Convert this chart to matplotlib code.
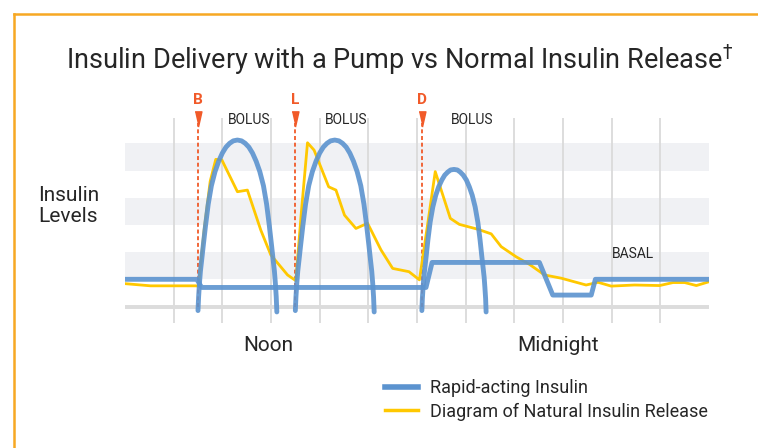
import matplotlib
matplotlib.use("Agg")
import matplotlib.pyplot as plt
from matplotlib.lines import Line2D

plt.rcParams["font.family"] = ["Roboto", "DejaVu Sans"]

# data (x in hours of the day, y in insulin level rows)
grid_hours = [8, 10, 12, 14, 16, 18, 20, 22, 24, 26, 28]
meal_hours = [9.0, 13.0, 18.2]
meal_labels = ["B", "L", "D"]

basal_x = [6.0, 8.95, 9.15, 18.37, 18.62, 23.03, 23.58, 25.16, 25.33, 30.0]
basal_y = [1.0, 1.0, 0.7, 0.7, 1.62, 1.62, 0.42, 0.42, 1.0, 1.0]

bolus1_x = [9.0, 9.025, 9.06, 9.1, 9.15, 9.22, 9.31, 9.42, 9.55, 9.7, 9.85, 10.0,
            10.15, 10.3, 10.45, 10.62, 10.79, 10.94, 11.09, 11.24, 11.39, 11.54, 11.69,
            11.82, 11.93, 12.02, 12.09, 12.14, 12.18, 12.215, 12.24]
bolus2_x = [13.0, 13.025, 13.06, 13.1, 13.15, 13.22, 13.31, 13.42, 13.55, 13.7, 13.85, 14.0,
            14.15, 14.3, 14.45, 14.62, 14.79, 14.94, 15.09, 15.24, 15.39, 15.54, 15.69,
            15.82, 15.93, 16.02, 16.09, 16.14, 16.18, 16.215, 16.24]
bolus12_y = [-0.15, 0.35, 0.85, 1.3, 1.7, 2.27, 2.98, 3.76, 4.44, 4.96, 5.34, 5.64,
             5.86, 6.0, 6.09, 6.12, 6.09, 6.0, 5.86, 5.64, 5.34, 4.96, 4.44,
             3.76, 2.98, 2.27, 1.7, 1.3, 0.85, 0.35, -0.2]
bolus3_x = [18.2, 18.22, 18.25, 18.28, 18.32, 18.38, 18.45, 18.54, 18.65, 18.77, 18.89, 19.02,
            19.14, 19.26, 19.38, 19.52, 19.66, 19.78, 19.9, 20.03, 20.15, 20.27, 20.39,
            20.5, 20.59, 20.66, 20.72, 20.76, 20.79, 20.82, 20.84]
bolus3_y = [-0.15, 0.29, 0.7, 1.07, 1.4, 1.87, 2.46, 3.1, 3.66, 4.09, 4.4, 4.65,
            4.83, 4.94, 5.02, 5.04, 5.02, 4.94, 4.83, 4.65, 4.4, 4.09, 3.66,
            3.1, 2.46, 1.87, 1.4, 1.07, 0.7, 0.29, -0.2]

natural_x = [6.0, 7.05, 8.9, 9.02, 9.25, 9.5, 9.73, 9.98, 10.62, 11.03, 11.58, 11.99,
             12.68, 13.02, 13.25, 13.5, 13.77, 14.37, 14.67, 15.02, 15.49, 15.97, 16.52,
             17.0, 17.67, 18.1, 18.45, 18.75, 19.37, 19.74, 20.5, 21.05, 21.46, 22.07,
             22.62, 23.24, 23.93, 24.95, 25.44, 25.98, 26.94, 27.97, 28.52, 29.0, 29.48, 30.0]
natural_y = [0.84, 0.76, 0.76, 0.75, 2.8, 4.6, 5.41, 5.39, 4.22, 4.28, 2.81, 1.9,
             1.16, 0.95, 3.5, 6.02, 5.75, 4.4, 4.28, 3.36, 2.87, 3.06, 2.08,
             1.4, 1.28, 0.98, 3.1, 4.96, 3.24, 3.02, 2.84, 2.67, 2.2, 1.83,
             1.55, 1.16, 1.04, 0.79, 0.89, 0.75, 0.79, 0.77, 0.88, 0.88, 0.77, 0.91]

band_rows = [1, 3, 5]

blue = "#5B93CF"
yellow = "#FFC800"
orange = "#F15A29"
text_col = "#262626"

W, H = 758, 448
fig = plt.figure(figsize=(W / 100, H / 100), dpi=100)


def fx(px):
    return px / W


def fy(py):
    return 1 - py / H


# orange frame on top and left
fig.add_artist(Line2D([fx(13.8), 1], [fy(13.8), fy(13.8)], color="#F7A823", lw=1.8))
fig.add_artist(Line2D([fx(13.8), fx(13.8)], [fy(13.8), 0], color="#F7A823", lw=1.8))

ax = fig.add_axes([fx(125), fy(330), (709 - 125) / W, (330 - 90) / H])
ax.set_xlim(6, 30)
ax.set_ylim(-0.864, 7.96)
ax.axis("off")

for r in band_rows:
    ax.axhspan(r, r + 1, color="#F0F1F4", lw=0, zorder=0)

ax.vlines(grid_hours, -0.6, 6.93, colors="#DADADA", lw=1.3, zorder=1)
ax.hlines(0, 6, 30, colors="#DCDCDC", lw=2.8, zorder=1)

# meal markers
ax.vlines(meal_hours, 0, 6.75, colors=orange, lw=1.3, linestyles=(0, (2.2, 1.5)), zorder=2)
ax.plot(meal_hours, [6.9] * 3, ls="none", marker=[(-0.45, 1), (0.45, 1), (0, -1)],
        ms=11, color=orange, zorder=3)
for h, lab in zip(meal_hours, meal_labels):
    ax.text(h, 7.6, lab, color=orange, fontsize=11, fontweight="bold",
            ha="center", va="center")

ax.plot(natural_x, natural_y, color=yellow, lw=2.0, zorder=3, solid_joinstyle="round")
for bx, by in [(bolus1_x, bolus12_y), (bolus2_x, bolus12_y), (bolus3_x, bolus3_y)]:
    ax.plot(bx, by, color=blue, lw=3.5, alpha=0.9, zorder=4,
            solid_capstyle="round", solid_joinstyle="round")
ax.plot(basal_x, basal_y, color=blue, lw=3.5, alpha=0.9, zorder=4, solid_capstyle="round")

for h in [11.09, 15.08, 20.25]:
    ax.text(h, 6.86, "BOLUS", fontsize=10, color=text_col, ha="center", va="center")
ax.text(26.87, 1.93, "BASAL", fontsize=10, color=text_col, ha="center", va="center")

ax.text(11.9, -1.42, "Noon", fontsize=15, color=text_col, ha="center", va="center", clip_on=False)
ax.text(23.8, -1.42, "Midnight", fontsize=15, color=text_col, ha="center", va="center", clip_on=False)

fig.text(fx(38), fy(206), "Insulin\nLevels", fontsize=15, color=text_col,
         ha="left", va="center", linespacing=1.15)

fig.text(fx(400), fy(60), "Insulin Delivery with a Pump vs Normal Insulin Release$^{\\dagger}$",
         fontsize=19.5, color=text_col, ha="center", va="center")

handles = [Line2D([], [], color=blue, lw=4), Line2D([], [], color=yellow, lw=2.5)]
fig.legend(handles, ["Rapid-acting Insulin", "Diagram of Natural Insulin Release"],
           loc="center left", bbox_to_anchor=(fx(385), fy(400)), frameon=False,
           fontsize=13, handlelength=1.85, handletextpad=0.65, labelspacing=0.3,
           borderpad=0, borderaxespad=0, labelcolor=text_col)

fig.savefig("out.png", dpi=100)
